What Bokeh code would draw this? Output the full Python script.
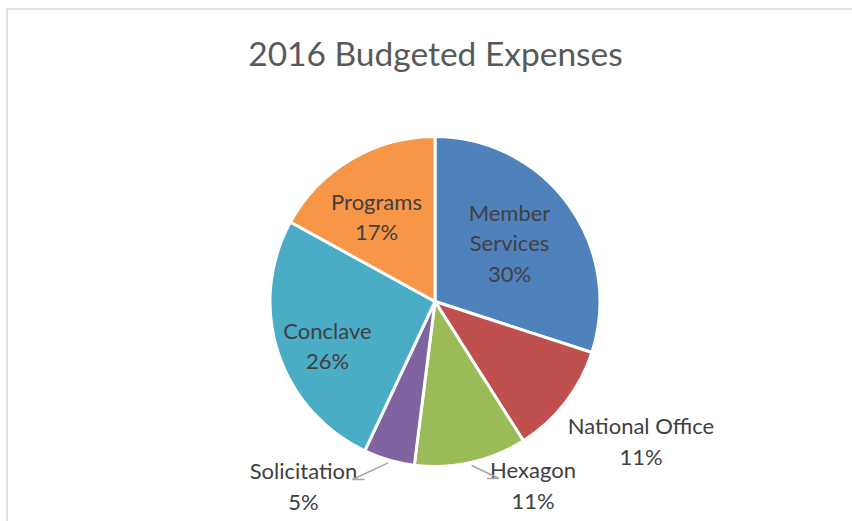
import numpy as np
from bokeh.plotting import figure
from bokeh.models import Range1d, ColumnDataSource
from bokeh.core.properties import value
from bokeh.embed import file_html
from bokeh.resources import INLINE

# ---- data ----
title = "2016 Budgeted Expenses"
categories = ["Member Services", "National Office", "Hexagon", "Solicitation", "Conclave", "Programs"]
label_lines = [["Member", "Services"], ["National Office"], ["Hexagon"], ["Solicitation"], ["Conclave"], ["Programs"]]
values = [30, 11, 11, 5, 26, 17]
colors = ["#4F81BD", "#C0504D", "#9BBB59", "#8064A2", "#4BACC6", "#F79646"]

# ---- layout ----
W, H = 852, 521
cx, cy, R = 434.5, 220.0, 165.0
# centre of each label block relative to pie centre (px)
label_offsets = [(74.5, 59), (206, -139.5), (98, -183.5), (-131.5, -184.5), (-107.5, -44), (-58.5, 85)]
line_gap = 30.5
# leader lines: (index, end dx from label centre, direction toward pie)
leaders = [(2, -46, 1), (3, 61, -1)]

FONT = "Lato"
TXT = "#404040"

p = figure(width=W, height=H, x_range=Range1d(0, W), y_range=Range1d(0, H),
           output_backend="svg", toolbar_location=None, min_border=0,
           outline_line_color=None,
           background_fill_color="white", border_fill_color="white")
p.axis.visible = False
p.grid.visible = False

# chart-area border (left and top edges visible)
p.line(x=[6.5, 6.5, W], y=[0, H - 8.5, H - 8.5], line_color="#D9D9D9", line_width=1.5)

total = float(sum(values))
fr = np.array(values) / total
cum = np.concatenate([[0.0], np.cumsum(fr)])
starts = np.pi / 2 - cum[:-1] * 2 * np.pi
ends = np.pi / 2 - cum[1:] * 2 * np.pi
mids = (starts + ends) / 2

src = ColumnDataSource(dict(x=[cx] * len(values), y=[cy] * len(values),
                            start=list(starts), end=list(ends), color=colors))
p.wedge(x="x", y="y", radius=R, start_angle="start", end_angle="end", direction="clock",
        fill_color="color", line_color="white", line_width=3, source=src)

# labels
tx, ty, tt = [], [], []
for lines, v, (dx, dy) in zip(label_lines, values, label_offsets):
    all_lines = lines + [f"{v}%"]
    n = len(all_lines)
    for k, s in enumerate(all_lines):
        tx.append(cx + dx)
        ty.append(cy + dy + (n - 1) / 2 * line_gap - k * line_gap)
        tt.append(s)
p.text(x=tx, y=ty, text=tt, text_align="center", text_baseline="middle",
       text_font=value(FONT), text_font_size="22px", text_color=TXT)

# leader lines
for i, edx, sgn in leaders:
    sx = cx + (R + 3) * np.cos(mids[i])
    sy = cy + (R + 3) * np.sin(mids[i])
    dx, dy = label_offsets[i]
    ey = cy + dy + 6.5
    ex = cx + dx + edx
    elx = ex + sgn * 12
    p.line(x=[sx, elx, ex], y=[sy, ey, ey], line_color="#A6A6A6", line_width=1.5)

# title
p.text(x=[435], y=[H - 52], text=[title], text_align="center", text_baseline="middle",
       text_font=value(FONT), text_font_size="33.5px", text_color="#595959")

open("out.html", "w").write(file_html(p, INLINE))
